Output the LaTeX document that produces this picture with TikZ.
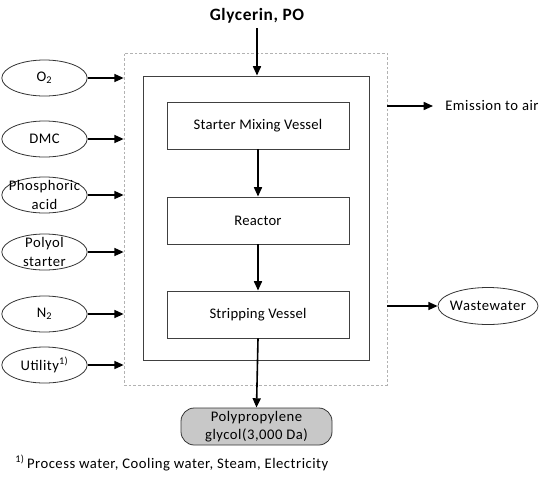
\documentclass[tikz,border=0pt]{standalone}
\usepackage{fontspec}
\setmainfont{Carlito}
\newfontfamily\wf[LetterSpace=3.5]{Carlito}
\newfontfamily\pf[LetterSpace=1.5]{Carlito}
\usetikzlibrary{shapes.geometric,arrows.meta}
\begin{document}
\begin{tikzpicture}[x=0.75pt,y=-0.75pt,
  font=\wf\fontsize{11}{14}\selectfont,
  flow/.style={-{Triangle[length=7pt,width=6pt]}, line width=1.2pt},
  procbox/.style={draw=black!75, line width=0.7pt, minimum width=136.5pt, minimum height=35.25pt, inner sep=0pt, font=\pf\fontsize{11}{14}\selectfont},
  src/.style={draw=black!80, ellipse, minimum width=64pt, minimum height=27pt, inner sep=0pt, line width=0.6pt}]
\useasboundingbox (0,0) rectangle (548,482);
\node[draw=black!30, dash pattern=on 2pt off 1.5pt, line width=0.5pt, minimum width=197.25pt, minimum height=249pt, inner sep=0pt] (outer) at (255.5,219) {};
\node[draw=black!75, line width=0.7pt, minimum width=169.5pt, minimum height=213pt, inner sep=0pt] (inner) at (256,218) {};
\node[procbox] (starter) at (258,125.5) {Starter Mixing Vessel};
\node[procbox] (reactor) at (258,220.5) {Reactor};
\node[procbox] (strip) at (258,314.5) {Stripping Vessel};
\node[font=\wf\fontsize{13}{15}\selectfont\bfseries] (gly) at (257,16) {Glycerin, PO};
\node[draw=black!80, line width=0.6pt, fill={rgb,255:red,200;green,200;blue,200}, rounded corners=10pt, minimum width=113.25pt, minimum height=27.75pt, align=center, inner sep=0pt, font=\wf\fontsize{11}{13.5}\selectfont] (pg) at (256.5,426.5) {Polypropylene\\glycol(3,000 Da)};
% sources
\node[src, label={center:O\textsubscript{2}}] (o2) at (44.5,78) {};
\node[src, label={center:DMC}] (dmc) at (44.5,139) {};
\node[src, label={[align=center]center:Phosphoric\\acid}] (pa) at (44.5,195) {};
\node[src, label={[align=center]center:Polyol\\starter}] (ps) at (44.5,252) {};
\node[src, label={center:N\textsubscript{2}}] (n2) at (44.5,314) {};
\node[src, label={center:Utility\textsuperscript{1)}}] (ut) at (44.5,365) {};
\foreach \n in {o2,dmc,pa,ps,n2,ut}{
  \draw[flow] (\n.east) -- (\n.east -| outer.west);
}
% vertical flows
\draw[flow] (gly.south) -- (inner.north -| gly);
\draw[flow] (starter.south) -- (reactor.north);
\draw[flow] (reactor.south) -- (strip.north);
\draw[flow] (strip.south) -- (pg.north);
% outputs
\coordinate (em) at (433,106);
\draw[flow] (outer.east |- em) -- (em);
\node[anchor=west, inner sep=0pt] (emt) at (445,106) {Emission to air};
\node[src, minimum width=75pt, minimum height=27.75pt, label={center:Wastewater}] (ww) at (488,306) {};
\draw[flow] (outer.east |- ww) -- (ww.west);
% footnote
\node[anchor=west, inner sep=0pt] (fn) at (15,463) {\textsuperscript{1)}\,Process water, Cooling water, Steam, Electricity};
\end{tikzpicture}
\end{document}
